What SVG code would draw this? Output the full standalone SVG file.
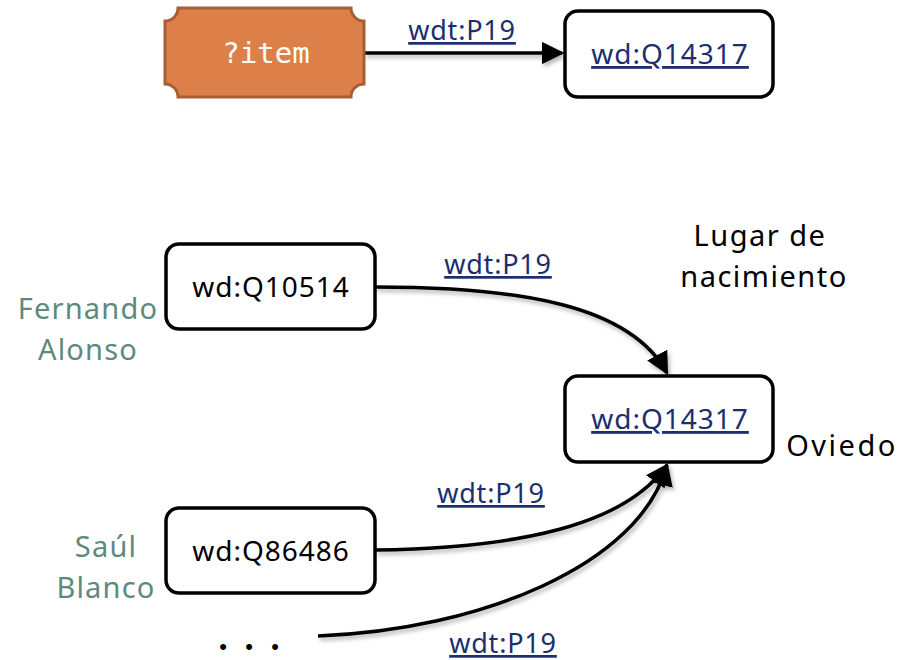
<svg xmlns="http://www.w3.org/2000/svg" width="903" height="660" viewBox="0 0 903 660">
<defs>
<style>
.box{fill:#fff;stroke:#000;stroke-width:3.5}
.t{font-family:"Noto Sans","Liberation Sans",sans-serif;font-size:28px;letter-spacing:1px;text-anchor:middle}
.lnk{fill:#1b2f6e;text-decoration:underline}
.el{font-size:27px;letter-spacing:0.8px}
.blk{fill:#000}
.name{fill:#5d8a7c;font-size:29px;letter-spacing:1.2px}
.lab{font-size:29px;letter-spacing:1.5px}
.edge{fill:none;stroke:#000;stroke-width:3.5}
</style>
<marker id="ah" viewBox="0 0 10 10" refX="9" refY="5" markerWidth="6.5" markerHeight="6.5" orient="auto" markerUnits="strokeWidth">
<path d="M0,0 L10,5 L0,10 z" fill="#000"/>
</marker>
<filter id="sh" x="-10%" y="-10%" width="120%" height="140%">
<feDropShadow dx="2" dy="3" stdDeviation="2" flood-color="#000" flood-opacity="0.3"/>
</filter>
</defs>
<g id="connectors" filter="url(#sh)">
<path class="edge" d="M364,53 H562" marker-end="url(#ah)"/>
<path class="edge" d="M375,287 C520,287 630,305 667,373" marker-end="url(#ah)"/>
<path class="edge" d="M375,550 C520,548 625,525 667,465" marker-end="url(#ah)"/>
<path class="edge" d="M318,636 C480,630 640,565 667,465" marker-end="url(#ah)"/>
</g>
<g id="edge-labels">
<text class="t lnk el" x="462" y="40">wdt:P19</text>
<text class="t lnk el" x="498" y="274">wdt:P19</text>
<text class="t lnk el" x="491" y="503">wdt:P19</text>
<text class="t lnk el" x="503" y="653">wdt:P19</text>
</g>
<g id="item">
<path d="M178,8 H351 A13,13 0 0 0 364,21 V84 A13,13 0 0 0 351,97 H178 A13,13 0 0 0 165,84 V21 A13,13 0 0 0 178,8 Z" fill="#dd7f48" stroke="#a85e34" stroke-width="3"/>
<text x="266" y="63" fill="#fff" font-family="'DejaVu Sans Mono','Liberation Mono',monospace" font-size="29" text-anchor="middle">?item</text>
</g>
<g id="q14317-top">
<rect class="box" x="565" y="11" width="208" height="86" rx="13"/>
<text class="t lnk" x="670" y="64">wd:Q14317</text>
</g>
<g id="q10514">
<rect class="box" x="166" y="244" width="209" height="85" rx="13"/>
<text class="t blk" x="271" y="297">wd:Q10514</text>
</g>
<g id="q14317">
<rect class="box" x="565" y="376" width="208" height="86" rx="13"/>
<text class="t lnk" x="670" y="429">wd:Q14317</text>
</g>
<g id="q86486">
<rect class="box" x="166" y="508" width="209" height="85" rx="13"/>
<text class="t blk" x="271" y="561">wd:Q86486</text>
</g>
<g id="labels">
<text class="t name" x="88" y="319">Fernando</text>
<text class="t name" x="88" y="360">Alonso</text>
<text class="t name" x="106" y="557">Saúl</text>
<text class="t name" x="106" y="598">Blanco</text>
<text class="t blk lab" x="760" y="246">Lugar de</text>
<text class="t blk lab" x="764" y="287">nacimiento</text>
<text class="t blk lab" x="842" y="456" style="letter-spacing:2.5px">Oviedo</text>
<text class="blk" x="223 249 275" y="654" font-family="'Liberation Sans',sans-serif" font-size="22" text-anchor="middle">•••</text>
</g>
</svg>
